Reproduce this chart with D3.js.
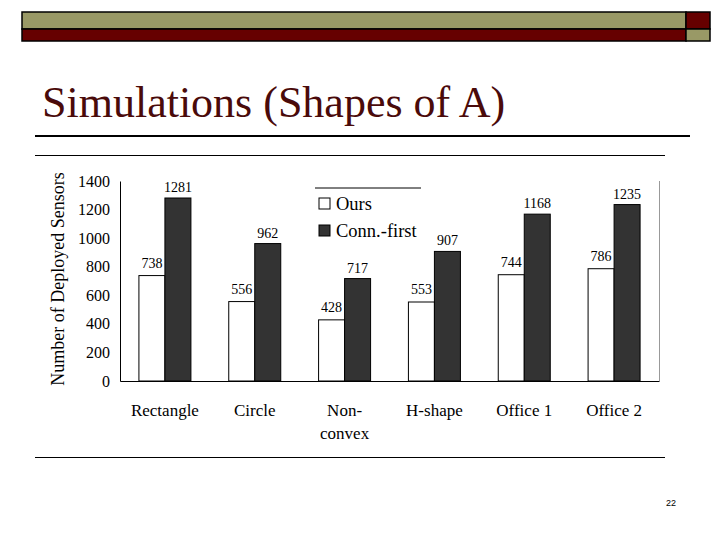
<!DOCTYPE html>
<html>
<head>
<meta charset="utf-8">
<script src="https://cdn.jsdelivr.net/npm/d3@7"></script>
<style>
  body { margin: 0; background: #fff; }
  svg { display: block; }
</style>
</head>
<body>
<div id="slide"></div>
<script>
var categories = ["Rectangle", "Circle", "Non-convex", "H-shape", "Office 1", "Office 2"]
var ours       = [738, 556, 428, 553, 744, 786]
var connFirst  = [1281, 962, 717, 907, 1168, 1235]
var yTicks     = [0, 200, 400, 600, 800, 1000, 1200, 1400]
var seriesNames = ["Ours", "Conn.-first"]

var W = 720, H = 540
var margin = {top: 181, right: 61, bottom: 159, left: 120}
var width  = W - margin.left - margin.right
var height = H - margin.top - margin.bottom

var svg = d3.select("#slide").append("svg")
  .attr("width", W).attr("height", H)

// slide decoration bars
var olive = "#999966", maroon = "#660000"
svg.append("rect").attr("x", 22).attr("y", 12).attr("width", 664).attr("height", 17).attr("fill", olive).attr("stroke", "#000").attr("stroke-width", 1.5)
svg.append("rect").attr("x", 686).attr("y", 12).attr("width", 24).attr("height", 17).attr("fill", maroon).attr("stroke", "#000").attr("stroke-width", 1.5)
svg.append("rect").attr("x", 22).attr("y", 29).attr("width", 664).attr("height", 12).attr("fill", maroon).attr("stroke", "#000").attr("stroke-width", 1.5)
svg.append("rect").attr("x", 686).attr("y", 29).attr("width", 24).attr("height", 12).attr("fill", olive).attr("stroke", "#000").attr("stroke-width", 1.5)

var serif = "'Liberation Serif', 'Times New Roman', serif"

// title
svg.append("text")
  .attr("x", 42).attr("y", 117)
  .attr("font-family", serif)
  .attr("font-size", 44)
  .attr("fill", "#4a0a0a")
  .text("Simulations (Shapes of A)")

svg.append("line").attr("x1", 35).attr("x2", 690).attr("y1", 136).attr("y2", 136)
  .attr("stroke", "#000").attr("stroke-width", 2)

// picture frame lines
svg.append("line").attr("x1", 35).attr("x2", 665).attr("y1", 155.5).attr("y2", 155.5).attr("stroke", "#000").attr("stroke-width", 1)
svg.append("line").attr("x1", 35).attr("x2", 665).attr("y1", 457.5).attr("y2", 457.5).attr("stroke", "#000").attr("stroke-width", 1)

var x = d3.scaleBand().domain(categories).range([0, width]).padding(0)
var barW = 26
var y = d3.scaleLinear().domain([0, 1400]).range([height, 0])

var chart = svg.append("g")
  .attr("transform", "translate(" + margin.left + "," + margin.top + ")")

// right border of plot area
chart.append("line").attr("x1", width + 0.5).attr("x2", width + 0.5).attr("y1", 0).attr("y2", height)
  .attr("stroke", "#999").attr("stroke-width", 1)

// bars
var g = chart.selectAll(".grp").data(categories).enter().append("g")
  .attr("class", "grp")
  .attr("transform", function (d) { return "translate(" + (x(d) + x.bandwidth() / 2) + ",0)" })

g.append("rect")
  .attr("x", -barW).attr("width", barW)
  .attr("y", function (d, i) { return y(ours[i]) })
  .attr("height", function (d, i) { return height - y(ours[i]) })
  .attr("fill", "#fff").attr("stroke", "#000").attr("stroke-width", 1)

g.append("rect")
  .attr("x", 0).attr("width", barW)
  .attr("y", function (d, i) { return y(connFirst[i]) })
  .attr("height", function (d, i) { return height - y(connFirst[i]) })
  .attr("fill", "#333").attr("stroke", "#000").attr("stroke-width", 1)

// value labels
g.append("text")
  .attr("x", -barW / 2)
  .attr("y", function (d, i) { return y(ours[i]) - 8 })
  .attr("text-anchor", "middle")
  .attr("font-family", serif).attr("font-size", 14)
  .text(function (d, i) { return ours[i] })

g.append("text")
  .attr("x", barW / 2)
  .attr("y", function (d, i) { return y(connFirst[i]) - 6 })
  .attr("text-anchor", "middle")
  .attr("font-family", serif).attr("font-size", 14)
  .text(function (d, i) { return connFirst[i] })

// axes
var yAxis = chart.append("g")
  .call(d3.axisLeft(y).tickValues(yTicks).tickSize(0).tickPadding(10).tickFormat(d3.format("d")))
yAxis.select(".domain").attr("stroke", "#000")
yAxis.selectAll("text").attr("font-family", serif).attr("font-size", 16).attr("fill", "#000")

var xAxis = chart.append("g")
  .attr("transform", "translate(0," + height + ")")
  .call(d3.axisBottom(x).tickSize(0).tickFormat(""))
xAxis.select(".domain").attr("stroke", "#000")

// x labels (Non-convex wraps)
g.append("text")
  .attr("y", height + 35)
  .attr("text-anchor", "middle")
  .attr("font-family", serif).attr("font-size", 17)
  .each(function (d) {
    var t = d3.select(this)
    if (d === "Non-convex") {
      t.append("tspan").attr("x", 0).text("Non-")
      t.append("tspan").attr("x", 0).attr("dy", 23).text("convex")
    } else {
      t.append("tspan").attr("x", 0).text(d)
    }
  })

// y title
chart.append("text")
  .attr("transform", "translate(-56," + (height / 2 - 2) + ") rotate(-90)")
  .attr("text-anchor", "middle")
  .attr("font-family", serif).attr("font-size", 18)
  .text("Number of Deployed Sensors")

// legend
var leg = svg.append("g").attr("transform", "translate(315,188)")
leg.append("line").attr("x1", 0).attr("x2", 106).attr("y1", 0).attr("y2", 0).attr("stroke", "#000")
var legItems = leg.selectAll(".li").data(seriesNames).enter().append("g")
  .attr("transform", function (d, i) { return "translate(0," + (10 + i * 27) + ")" })
legItems.append("rect")
  .attr("x", 4).attr("y", 0).attr("width", 11).attr("height", 11)
  .attr("fill", function (d, i) { return i === 0 ? "#fff" : "#333" })
  .attr("stroke", "#000").attr("stroke-width", 1)
legItems.append("text")
  .attr("x", 21).attr("y", 12)
  .attr("font-family", serif).attr("font-size", 18.5)
  .text(function (d) { return d })

// page number
svg.append("text")
  .attr("x", 671).attr("y", 506)
  .attr("text-anchor", "middle")
  .attr("font-family", "'Liberation Sans', Arial, sans-serif").attr("font-size", 9)
  .text("22")
</script>
</body>
</html>
